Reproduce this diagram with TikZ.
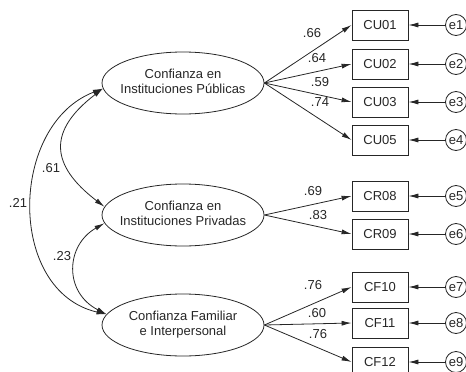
\documentclass[tikz,border=0pt]{standalone}
\usepackage{fontspec}
\setmainfont{Liberation Sans}
\usetikzlibrary{shapes.geometric,arrows.meta}

% two centred lines that do not widen the ellipse
\newcommand{\twolines}[2]{\makebox[0pt]{\begin{tabular}{@{}c@{}}#1\\#2\end{tabular}}}

\tikzset{
  latent/.style={draw,ellipse,line width=0.8pt,minimum width=162pt,minimum height=62pt,inner sep=0pt},
  observed/.style={draw,rectangle,line width=0.8pt,minimum width=56pt,minimum height=30pt,inner sep=0pt},
  errvar/.style={draw,circle,line width=0.8pt,minimum size=21pt,inner sep=0pt},
  regarrow/.style={line width=0.8pt,-{Latex[length=10pt,width=5pt]}},
  covarrow/.style={line width=0.8pt,{Latex[length=10pt,width=5pt]}-{Latex[length=10pt,width=5pt]}},
  coef/.style={inner sep=0pt}
}

\begin{document}
\begin{tikzpicture}[x=1pt,y=-1pt,font=\fontsize{13}{15.5}\selectfont,color=black!85]
\useasboundingbox (0,0) rectangle (466,372);

% columns
\pgfmathsetmacro{\Xlat}{183};
\pgfmathsetmacro{\Xbox}{380};
\pgfmathsetmacro{\Xerr}{456};

% the three factors
\node[latent] (CIPub) at (\Xlat,83) {\twolines{Confianza en}{Instituciones Públicas}};
\node[latent] (CIPriv) at (\Xlat,215) {\twolines{Confianza en}{Instituciones Privadas}};
\node[latent] (CFI) at (\Xlat,325) {\twolines{Confianza Familiar}{e Interpersonal}};

% the items and their errors
\foreach \nm/\yy/\en in {CU01/25/e1,CU02/64/e2,CU03/102/e3,CU05/140/e4,
                         CR08/196/e5,CR09/234/e6,
                         CF10/287/e7,CF11/323/e8,CF12/362/e9}{
  \node[observed] (\nm) at (\Xbox,\yy) {\nm};
  \node[errvar] (\en) at (\Xerr,\yy) {\en};
  \draw[regarrow] (\en) -- (\nm);
}

% loadings
\foreach \nm in {CU01,CU02,CU03,CU05}
  \draw[regarrow] (CIPub.east) -- (\nm.west);
\foreach \nm in {CR08,CR09}
  \draw[regarrow] (CIPriv.east) -- (\nm.west);
\foreach \nm in {CF10,CF11,CF12}
  \draw[regarrow] (CFI.east) -- (\nm.west);

\node[coef] (w01) at (312,33) {.66};
\node[coef] (w02) at (317,58) {.64};
\node[coef] (w03) at (320,82) {.59};
\node[coef] (w05) at (320,102) {.74};
\node[coef] (w08) at (313,191) {.69};
\node[coef] (w09) at (318,215) {.83};
\node[coef] (w10) at (313,285) {.76};
\node[coef] (w11) at (317,313) {.60};
\node[coef] (w12) at (318,334) {.76};

% correlations between factors
\draw[covarrow] (CIPub.184) .. controls +(-55,42) and +(-55,-42) .. (CIPriv.174);
\draw[covarrow] (CIPub.184) .. controls +(-94,36) and +(-100,-23) .. (CFI.172);
\draw[covarrow] (CIPriv.186) .. controls +(-39,22) and +(-43,-22) .. (CFI.172);

\node[coef] (r12) at (51,168) {.61};
\node[coef] (r13) at (18,203) {.21};
\node[coef] (r23) at (62,256) {.23};
\end{tikzpicture}
\end{document}
